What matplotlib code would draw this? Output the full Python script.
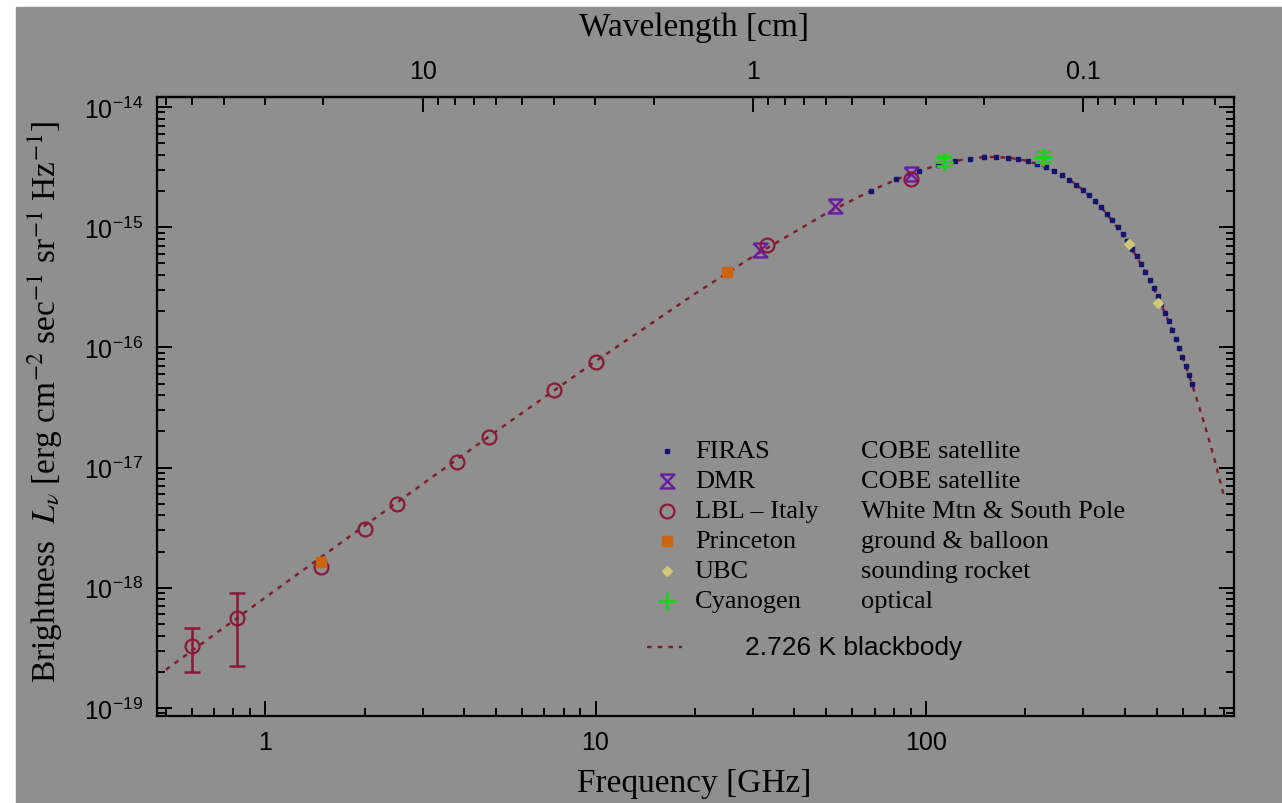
import matplotlib
matplotlib.use("Agg")
import matplotlib.pyplot as plt
import matplotlib.ticker as ticker
from matplotlib.patches import Rectangle
import numpy as np

# 2.726 K blackbody curve (brightness in 1e-15 erg/cm2/s/sr/Hz)
curve_freq = [0.5, 1, 2, 5, 10, 20, 30, 50, 70, 85, 100, 115, 130, 145, 160, 180, 200,
              225, 250, 275, 300, 350, 400, 450, 500, 550, 600, 650, 700, 750, 800]
curve_b = [2.08e-4, 8.29e-4, 3.29e-3, 0.0200, 0.0765, 0.279, 0.571, 1.304, 2.079, 2.609,
           3.057, 3.407, 3.650, 3.791, 3.837, 3.770, 3.589, 3.256, 2.856, 2.437, 2.031,
           1.334, 0.825, 0.487, 0.277, 0.153, 0.0823, 0.0434, 0.0225, 0.0115, 0.00577]

# FIRAS (GHz, 1e-15 units)
firas_freq = [68.05, 81.54, 95.33, 108.82, 122.31, 136.10, 149.60, 163.39, 176.88, 190.37,
              204.16, 217.65, 231.14, 244.93, 258.42, 272.21, 285.70, 299.19, 312.98, 326.47,
              339.96, 353.75, 367.24, 381.03, 394.52, 408.01, 421.80, 435.29, 448.78, 462.57,
              476.06, 489.85, 503.35, 516.84, 530.63, 544.12, 557.91, 571.40, 584.89, 598.68,
              612.17, 625.66, 639.45]
firas_b = [2.006, 2.493, 2.928, 3.276, 3.539, 3.720, 3.814, 3.834, 3.789, 3.689,
           3.542, 3.363, 3.162, 2.940, 2.715, 2.483, 2.261, 2.045, 1.834, 1.640,
           1.460, 1.289, 1.137, 0.996, 0.871, 0.760, 0.659, 0.571, 0.493, 0.4237,
           0.3642, 0.3112, 0.2662, 0.2273, 0.1930, 0.1641, 0.1388, 0.1176, 0.0994, 0.0837,
           0.0705, 0.0594, 0.0497]

# DMR
dmr_freq = [31.5, 53.0, 90.0]
dmr_b = [6.45e-16, 1.5e-15, 2.77e-15]

# LBL - Italy
lbl_freq = [0.6, 0.82, 1.47, 2.0, 2.5, 3.8, 4.75, 7.5, 10.0, 33.0, 90.0]
lbl_b = [3.3e-19, 5.6e-19, 1.5e-18, 3.1e-18, 5.0e-18, 1.12e-17, 1.81e-17, 4.38e-17,
         7.5e-17, 7.1e-16, 2.5e-15]
lbl_lo = [2.0e-19, 2.24e-19]
lbl_hi = [4.64e-19, 9.1e-19]

# Princeton
prin_freq = [1.47, 25.0]
prin_b = [1.65e-18, 4.2e-16]

# UBC
ubc_freq = [412.0, 504.0]
ubc_b = [7.3e-16, 2.35e-16]

# Cyanogen
cn_freq = [113.6, 227.0]
cn_b = [3.5e-15, 3.83e-15]
cn_err = [0.3e-15, 0.35e-15]

freq_ticks = [1, 10, 100]
wave_ticks = [10, 1, 0.1]
bright_ticks = [1e-19, 1e-18, 1e-17, 1e-16, 1e-15, 1e-14]

legend_names = ["FIRAS", "DMR", "LBL \u2013 Italy", "Princeton", "UBC", "Cyanogen"]
legend_desc = ["COBE satellite", "COBE satellite", "White Mtn & South Pole",
               "ground & balloon", "sounding rocket", "optical"]

gray = "#8f8f8f"
c_curve = "#7b1c2e"
c_firas = "#14146e"
c_dmr = "#6a1ba0"
c_lbl = "#8b1838"
c_prin = "#cc6410"
c_ubc = "#cfc77a"
c_cn = "#22cc22"

hourglass = [(-1, 1), (1, 1), (-1, -1), (1, -1), (-1, 1)]

fig = plt.figure(figsize=(12.82, 8.04), dpi=100, facecolor="white")
fig.patches.append(Rectangle((16 / 1282, 0), 1, 796 / 804, transform=fig.transFigure,
                             color=gray, zorder=-10))
ax = fig.add_axes([157 / 1282, 87 / 804, 1077 / 1282, 619 / 804])
ax.set_facecolor(gray)

ax.plot(curve_freq, np.array(curve_b) * 1e-15, color=c_curve, lw=1.7,
        linestyle=(0, (2, 2.5)), zorder=2)

ax.plot(firas_freq, np.array(firas_b) * 1e-15, "s", color=c_firas, ms=3.5, zorder=4)

ax.plot(dmr_freq, dmr_b, marker=hourglass, linestyle="none", ms=10, mfc="none",
        mec=c_dmr, mew=1.7, zorder=4)

lbl_b_arr = np.array(lbl_b)
ax.plot(lbl_freq, lbl_b, "o", ms=10, mfc="none", mec=c_lbl, mew=1.6, zorder=4)
ax.errorbar(lbl_freq[:2], lbl_b[:2],
            yerr=[lbl_b_arr[:2] - np.array(lbl_lo), np.array(lbl_hi) - lbl_b_arr[:2]],
            fmt="none", ecolor=c_lbl, elinewidth=1.8, capsize=6, capthick=1.8, zorder=3)

ax.plot(prin_freq, prin_b, "s", color=c_prin, ms=7, zorder=4)
ax.plot(ubc_freq, ubc_b, "D", color=c_ubc, ms=5, zorder=4)
ax.errorbar(cn_freq, cn_b, yerr=cn_err, fmt="+", color=c_cn, ms=13, mew=2.2,
            elinewidth=1.8, capsize=6, capthick=1.8, zorder=5)

ax.set_xscale("log")
ax.set_yscale("log")
ax.set_xlim(0.47, 858)
ax.set_ylim(0.857e-19, 1.21e-14)

ax.xaxis.set_major_locator(ticker.FixedLocator(freq_ticks))
ax.xaxis.set_major_formatter(ticker.FuncFormatter(lambda v, p: f"{v:g}"))
ax.xaxis.set_minor_formatter(ticker.NullFormatter())
ax.yaxis.set_major_locator(ticker.FixedLocator(bright_ticks))
ax.yaxis.set_major_formatter(ticker.LogFormatterSciNotation())
ax.yaxis.set_minor_locator(ticker.LogLocator(base=10, subs=np.arange(2, 10), numticks=20))
ax.yaxis.set_minor_formatter(ticker.NullFormatter())

ax.tick_params(which="both", direction="in", right=True, top=False, width=1.4)
ax.tick_params(which="major", length=11, labelsize=18, pad=10)
ax.tick_params(which="minor", length=6)
for lab in ax.get_xticklabels() + ax.get_yticklabels():
    lab.set_fontfamily("Liberation Sans")
for s in ax.spines.values():
    s.set_linewidth(1.6)


def ghz_to_cm(x):
    x = np.asarray(x, dtype=float)
    with np.errstate(divide="ignore"):
        return 29.979 / x


secax = ax.secondary_xaxis("top", functions=(ghz_to_cm, ghz_to_cm))
secax.xaxis.set_major_locator(ticker.FixedLocator(wave_ticks))
secax.xaxis.set_major_formatter(ticker.FuncFormatter(lambda v, p: f"{v:g}"))
secax.xaxis.set_minor_formatter(ticker.NullFormatter())
secax.tick_params(which="both", direction="in", width=1.4)
secax.tick_params(which="major", length=11, labelsize=18, pad=10)
secax.tick_params(which="minor", length=6)
for lab in secax.get_xticklabels():
    lab.set_fontfamily("Liberation Sans")
secax.spines["top"].set_linewidth(1.6)

serif = "Liberation Serif"
fig.text(694 / 1282, 1 - 784 / 804, "Frequency [GHz]", ha="center", va="center",
         fontsize=24, family=serif)
fig.text(694 / 1282, 1 - 28 / 804, "Wavelength [cm]", ha="center", va="center",
         fontsize=24, family=serif)
fig.text(45 / 1282, 1 - 402 / 804,
         r"Brightness  $L_\nu$ [erg cm$^{-2}$ sec$^{-1}$ sr$^{-1}$ Hz$^{-1}$]",
         rotation=90, ha="center", va="center", fontsize=24, family=serif,
         math_fontfamily="stix")

# legend drawn by hand
sym_x = 0.4735
name_x = 0.4995
desc_x = 0.6537
row0 = 0.4281
step = 0.04847
sym_styles = [
    dict(marker="s", color=c_firas, ms=3.5),
    dict(marker=hourglass, mfc="none", mec=c_dmr, mew=1.7, ms=10),
    dict(marker="o", mfc="none", mec=c_lbl, mew=1.6, ms=10),
    dict(marker="s", color=c_prin, ms=7),
    dict(marker="D", color=c_ubc, ms=5),
    dict(marker="+", color=c_cn, ms=13, mew=2.2),
]
for i, (name, desc) in enumerate(zip(legend_names, legend_desc)):
    yy = row0 - i * step
    ax.plot([sym_x], [yy], linestyle="none", transform=ax.transAxes, clip_on=False,
            **sym_styles[i])
    ax.text(name_x, yy, name, transform=ax.transAxes, ha="left", va="center",
            fontsize=19, family=serif)
    ax.text(desc_x, yy, desc, transform=ax.transAxes, ha="left", va="center",
            fontsize=19, family=serif)

ax.plot([0.455, 0.4875], [0.1115, 0.1115], transform=ax.transAxes, color=c_curve,
        lw=1.7, linestyle=(0, (2, 2.5)))
ax.text(0.546, 0.1115, "2.726 K blackbody", transform=ax.transAxes, ha="left",
        va="center", fontsize=19, family="Liberation Sans")

fig.savefig("out.png", dpi=100, facecolor="white")
